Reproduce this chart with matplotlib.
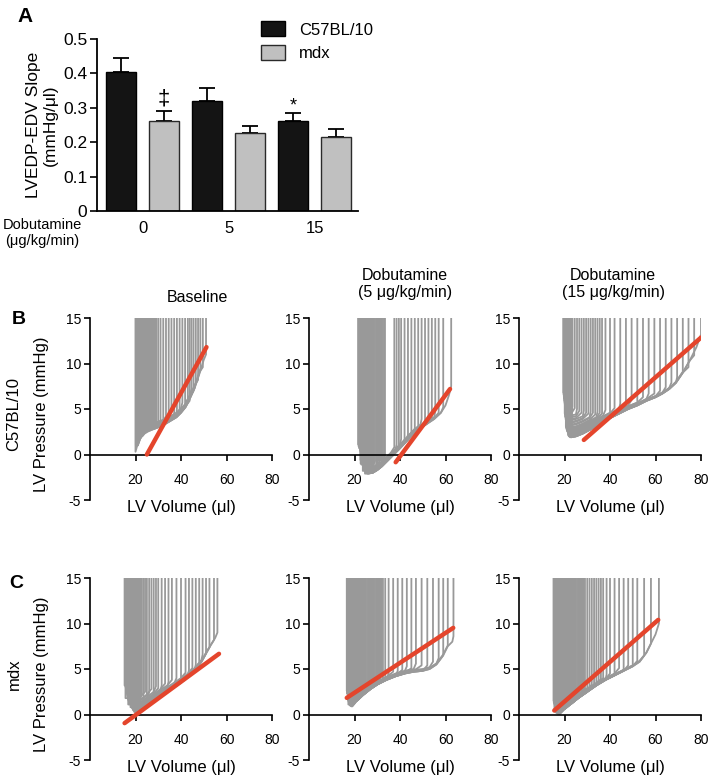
import numpy as np
import matplotlib
matplotlib.use("Agg")
import matplotlib.pyplot as plt

plt.rcParams['font.family'] = ['Liberation Sans', 'DejaVu Sans']
plt.rcParams['axes.unicode_minus'] = False

# ---------------- Panel A data ----------------
dose_labels = ['0', '5', '15']
c57_mean = [0.405, 0.321, 0.262]
c57_sem = [0.039, 0.037, 0.022]
mdx_mean = [0.261, 0.228, 0.214]
mdx_sem = [0.031, 0.018, 0.025]

# ---------------- PV loop data ----------------
env_v_B1 = [20, 21, 22, 23, 24, 26, 28, 30, 32, 34, 36, 38, 40, 42, 44, 46, 48, 50, 51.5]
env_p_B1 = [0.0, 0.9, 1.6, 2.0, 2.3, 2.6, 2.8, 3.0, 3.2, 3.5, 3.8, 4.1, 4.6, 5.2, 6.2, 7.3, 8.8, 10.4, 12.0]
esv_B1 = [20.0, 20.15, 20.3, 20.45, 20.6, 20.8, 21.0, 21.2, 21.4, 21.6, 21.8, 22.0, 22.3, 22.6, 22.9, 23.2,
          23.5, 23.8, 24.1, 24.4, 24.8, 25.2, 25.6, 26.0, 26.4, 26.8, 27.2, 27.6, 28.0, 28.4, 28.8, 29.2]
edv_B1 = [22.0, 22.5, 23.0, 23.5, 24.0, 24.6, 25.2, 25.8, 26.5, 27.2, 28.0, 29.0, 30.0, 31.0, 32.2, 33.4,
          34.6, 35.8, 37.0, 38.2, 39.4, 40.6, 41.8, 43.0, 43.8, 44.6, 45.5, 46.5, 47.5, 48.5, 49.6, 51.0]
lift_B1 = [0.3, 0.1, 0.4, 0.2, 0.5, 0.1, 0.3, 0.6, 0.2, 0.4, 0.1, 0.3, 0.5, 0.2, 0.0, 0.4,
           0.2, 0.6, 0.1, 0.3, 0.2, 0.5, 0.0, 0.3, 0.1, 0.4, 0.2, 0.0, 0.3, 0.1, 0.2, 0.0]
fit_v_B1 = [25.0, 51.2]
fit_p_B1 = [0.0, 11.8]

env_v_B2 = [22.5, 23.5, 24.5, 26, 28, 30, 32, 34, 36, 38, 40, 43, 46, 49, 52, 55, 58, 60, 61.5, 62.5]
env_p_B2 = [0.5, -1.2, -1.8, -2.1, -2.0, -1.7, -1.3, -0.8, -0.3, 0.2, 0.7, 1.5, 2.3, 2.9, 3.4, 3.9, 4.6, 5.4, 6.5, 7.5]
esv_B2 = [21.6, 21.8, 22.0, 22.1, 22.2, 22.3, 22.4, 22.5, 22.6, 22.7, 22.8, 22.9, 23.0, 23.1, 23.2, 23.35,
          23.5, 23.65, 23.8, 24.0, 24.2, 24.4, 24.6, 24.8, 25.0, 25.2, 25.4, 25.6, 25.8, 26.0, 26.3, 26.6]
edv_B2 = [26.5, 27.0, 27.5, 28.0, 28.5, 29.0, 29.5, 30.0, 30.5, 31.0, 31.5, 32.0, 32.5, 33.0, 33.4, 37.5,
          38.5, 39.5, 40.5, 42.0, 43.5, 45.0, 46.5, 48.0, 49.5, 51.0, 52.5, 54.0, 55.5, 57.0, 59.0, 62.5]
lift_B2 = [0.6, 0.4, 0.2, 0.5, 0.3, 0.7, 0.1, 0.4, 0.6, 0.2, 0.5, 0.3, 0.1, 0.4, 0.2, 0.5,
           0.3, 0.0, 0.4, 0.2, 0.1, 0.3, 0.0, 0.2, 0.4, 0.1, 0.3, 0.0, 0.2, 0.1, 0.0, 0.0]
fit_v_B2 = [38.1, 62.0]
fit_p_B2 = [-0.85, 7.2]

env_v_B3 = [20.0, 20.5, 21.5, 23, 25, 28, 31, 34, 37, 40, 44, 48, 52, 56, 60, 63, 66, 69, 72, 75, 78, 80]
env_p_B3 = [4.0, 2.8, 2.1, 1.9, 2.0, 2.3, 2.7, 3.1, 3.6, 4.0, 4.5, 5.0, 5.4, 5.9, 6.3, 6.7, 7.2, 7.9, 9.0, 10.3, 11.8, 13.2]
esv_B3 = [19.5, 19.6, 19.7, 19.8, 19.9, 20.0, 20.1, 20.2, 20.3, 20.4, 20.5, 20.6, 20.7, 20.8, 20.9, 21.0,
          21.1, 21.2, 21.3, 21.4, 21.5, 21.6, 21.7, 21.8, 21.9, 22.0, 22.2, 22.4, 22.6, 22.8, 23.0, 23.3]
edv_B3 = [23.5, 24.5, 25.5, 26.5, 27.5, 28.5, 29.5, 30.5, 31.5, 32.5, 33.5, 34.5, 35.5, 36.5, 38.0, 40.0,
          42.0, 44.5, 47.0, 49.5, 52.0, 54.5, 57.0, 59.5, 62.0, 64.5, 67.0, 69.5, 72.0, 74.5, 77.0, 80.0]
lift_B3 = [2.8, 2.6, 2.4, 2.2, 2.0, 1.9, 1.7, 1.6, 1.4, 1.3, 1.1, 1.0, 0.9, 0.8, 0.7, 0.6,
           0.5, 0.5, 0.4, 0.4, 0.3, 0.3, 0.2, 0.2, 0.1, 0.1, 0.1, 0.0, 0.1, 0.0, 0.0, 0.0]
fit_v_B3 = [28.5, 80.0]
fit_p_B3 = [1.6, 12.85]

env_v_C1 = [15.5, 16.5, 17.5, 18.5, 20, 22, 25, 28, 31, 34, 37, 40, 43, 46, 49, 51, 53, 55, 56.5]
env_p_C1 = [2.0, 0.9, 0.3, 0.1, 0.0, 0.2, 0.8, 1.4, 2.0, 2.5, 3.0, 3.5, 4.1, 4.8, 5.8, 6.7, 7.6, 8.4, 9.0]
esv_C1 = [15.2, 15.4, 15.6, 15.8, 16.0, 16.2, 16.4, 16.6, 16.8, 17.0, 17.2, 17.4, 17.6, 17.8, 18.0, 18.2,
          18.4, 18.6, 18.8, 19.0, 19.2, 19.4, 19.6, 19.8, 20.0, 20.3, 20.6, 20.9, 21.2, 21.5, 21.8, 22.1]
edv_C1 = [18.6, 19.2, 19.8, 20.4, 21.0, 21.6, 22.2, 22.8, 23.5, 24.2, 25.0, 26.0, 27.0, 28.0, 29.0, 30.0,
          31.5, 33.0, 34.5, 36.0, 38.0, 40.0, 42.0, 43.5, 45.0, 46.5, 48.0, 49.5, 51.0, 52.5, 54.5, 56.0]
lift_C1 = [1.2, 1.6, 0.9, 1.8, 1.4, 2.0, 1.1, 1.5, 0.8, 1.7, 1.3, 1.0, 1.4, 0.7, 1.1, 0.9,
           0.6, 0.8, 0.5, 0.7, 0.4, 0.3, 0.5, 0.2, 0.4, 0.1, 0.3, 0.2, 0.0, 0.1, 0.0, 0.0]
fit_v_C1 = [15.2, 56.7]
fit_p_C1 = [-0.95, 6.67]

env_v_C2 = [17.0, 18.0, 19.0, 21, 24, 27, 30, 34, 38, 42, 46, 50, 53, 56, 59, 61, 63, 64]
env_p_C2 = [2.0, 1.0, 0.9, 1.5, 2.2, 2.8, 3.3, 3.8, 4.2, 4.5, 4.7, 4.8, 5.0, 5.5, 6.5, 7.5, 8.0, 8.3]
esv_C2 = [16.6, 16.7, 16.8, 16.9, 17.0, 17.1, 17.2, 17.3, 17.4, 17.5, 17.6, 17.7, 17.8, 17.9, 18.0, 18.1,
          18.2, 18.3, 18.4, 18.5, 18.6, 18.7, 18.85, 19.0, 19.2, 19.4, 19.6, 19.8, 20.0, 20.2, 20.4, 20.6,
          20.8, 21.0, 21.2, 21.4, 21.6, 21.8, 22.0, 22.2]
edv_C2 = [20.5, 21.0, 21.5, 22.0, 22.5, 23.0, 23.5, 24.0, 24.5, 25.0, 25.5, 26.0, 26.5, 27.0, 27.5, 28.0,
          28.5, 29.0, 29.5, 30.0, 30.5, 31.0, 31.5, 32.0, 32.5, 33.5, 35.0, 37.0, 39.0, 41.0, 43.0, 45.0,
          47.0, 49.5, 52.0, 54.5, 57.0, 59.0, 61.0, 63.5]
lift_C2 = [0.6, 0.3, 0.8, 0.4, 0.2, 0.7, 0.5, 0.1, 0.6, 0.3, 0.4, 0.2, 0.5, 0.0, 0.3, 0.4,
           0.1, 0.2, 0.5, 0.0, 0.3, 0.1, 0.2, 0.4, 0.0, 0.2, 0.1, 0.3, 0.0, 0.1, 0.2, 0.0,
           0.3, 0.1, 0.0, 0.2, 0.1, 0.0, 0.1, 0.0]
fit_v_C2 = [16.6, 63.4]
fit_p_C2 = [1.83, 9.52]

env_v_C3 = [15.5, 16.5, 18, 20, 23, 26, 30, 34, 38, 42, 46, 50, 53, 56, 58, 60, 61.5]
env_p_C3 = [1.0, 0.2, 0.1, 0.6, 1.2, 1.8, 2.5, 3.2, 3.8, 4.3, 4.8, 5.3, 5.8, 6.8, 7.8, 8.8, 10.0]
esv_C3 = [15.2, 15.3, 15.4, 15.5, 15.6, 15.7, 15.8, 15.9, 16.0, 16.1, 16.2, 16.3, 16.4, 16.5, 16.6, 16.7,
          16.8, 16.9, 17.0, 17.1, 17.2, 17.3, 17.45, 17.6, 17.8, 18.0, 18.2, 18.4, 18.6, 18.8, 19.0, 19.3,
          19.6, 19.9, 20.2, 20.5, 20.8, 21.1, 21.4, 21.7]
edv_C3 = [19.0, 19.5, 20.0, 20.5, 21.0, 21.5, 22.0, 22.5, 23.0, 23.5, 24.0, 24.5, 25.0, 25.5, 26.0, 26.5,
          27.0, 27.5, 28.0, 28.5, 29.0, 30.0, 31.0, 32.0, 33.0, 34.0, 35.0, 36.0, 37.0, 38.5, 40.0, 42.0,
          44.0, 46.0, 48.0, 50.0, 52.0, 55.0, 58.0, 61.5]
lift_C3 = [0.5, 0.3, 0.7, 0.2, 0.4, 0.6, 0.1, 0.3, 0.5, 0.2, 0.4, 0.0, 0.3, 0.5, 0.1, 0.2,
           0.4, 0.0, 0.3, 0.1, 0.2, 0.4, 0.0, 0.2, 0.1, 0.3, 0.0, 0.1, 0.2, 0.0, 0.1, 0.0,
           0.2, 0.1, 0.0, 0.1, 0.0, 0.1, 0.0, 0.0]
fit_v_C3 = [15.5, 61.2]
fit_p_C3 = [0.44, 10.4]

col_titles = ['Baseline', 'Dobutamine\n(5 \u03bcg/kg/min)', 'Dobutamine\n(15 \u03bcg/kg/min)']
row_labels = ['C57BL/10', 'mdx']

# ---------------- figure ----------------
W, H = 711, 777
fig = plt.figure(figsize=(W / 100, H / 100), dpi=100)

def fx(px):
    return px / W

def fy(py):
    return 1 - py / H

BLACK_BAR = '#141414'
GRAY_BAR = '#c0c0c0'
LOOP_GRAY = '#999999'
RED = '#e4452c'

# ---- Panel A ----
axA = fig.add_axes([fx(97), fy(211), fx(358) - fx(97), fy(39) - fy(211)])
pos_c57 = np.array([0, 2, 4])
pos_mdx = np.array([1, 3, 5])
bw = 0.68
b1 = axA.bar(pos_c57, c57_mean, width=bw, color=BLACK_BAR, edgecolor='black', linewidth=1.0,
             label='C57BL/10', zorder=2)
axA.errorbar(pos_c57, c57_mean, yerr=[[0] * 3, c57_sem], fmt='none', ecolor='black',
             elinewidth=1.3, capsize=5.5, capthick=1.3, zorder=1)
b2 = axA.bar(pos_mdx, mdx_mean, width=bw, color=GRAY_BAR, edgecolor='#2a2a2a', linewidth=1.0,
             label='mdx', zorder=2)
axA.errorbar(pos_mdx, mdx_mean, yerr=[[0] * 3, mdx_sem], fmt='none', ecolor='black',
             elinewidth=1.3, capsize=5.5, capthick=1.3, zorder=1)
axA.set_xlim(-0.56, 5.51)
axA.set_ylim(0, 0.5)
axA.set_yticks([0, 0.1, 0.2, 0.3, 0.4, 0.5])
axA.set_yticklabels(['0', '0.1', '0.2', '0.3', '0.4', '0.5'])
axA.set_xticks([0.5, 2.5, 4.5])
axA.set_xticklabels(dose_labels)
axA.tick_params(axis='x', length=0, pad=7, labelsize=12)
axA.tick_params(axis='y', length=5, width=1.2, labelsize=12.5, pad=2)
for s in ['top', 'right']:
    axA.spines[s].set_visible(False)
for s in ['left', 'bottom']:
    axA.spines[s].set_linewidth(1.3)
axA.set_ylabel('LVEDP-EDV Slope\n(mmHg/\u03bcl)', fontsize=12.5, labelpad=4, linespacing=1.1)
axA.text(1, mdx_mean[0] + mdx_sem[0] + 0.004, '\u2021', ha='center', va='bottom', fontsize=16)
axA.text(4, c57_mean[2] + c57_sem[2] - 0.002, '*', ha='center', va='bottom', fontsize=13)
axA.legend(handles=[b1, b2], loc='upper left', bbox_to_anchor=(fx(253), fy(13)),
           bbox_transform=fig.transFigure, frameon=False, fontsize=12, borderpad=0,
           handlelength=1.4, handleheight=1.0, handletextpad=0.85, labelspacing=0.45)
fig.text(fx(42), fy(233), 'Dobutamine\n(\u03bcg/kg/min)', ha='center', va='center', fontsize=10.5,
         linespacing=1.15)
fig.text(fx(25), fy(16), 'A', ha='center', va='center', fontsize=15, fontweight='bold')

# ---- Panels B & C ----
panels = [
    [(env_v_B1, env_p_B1, esv_B1, edv_B1, lift_B1, fit_v_B1, fit_p_B1),
     (env_v_B2, env_p_B2, esv_B2, edv_B2, lift_B2, fit_v_B2, fit_p_B2),
     (env_v_B3, env_p_B3, esv_B3, edv_B3, lift_B3, fit_v_B3, fit_p_B3)],
    [(env_v_C1, env_p_C1, esv_C1, edv_C1, lift_C1, fit_v_C1, fit_p_C1),
     (env_v_C2, env_p_C2, esv_C2, edv_C2, lift_C2, fit_v_C2, fit_p_C2),
     (env_v_C3, env_p_C3, esv_C3, edv_C3, lift_C3, fit_v_C3, fit_p_C3)],
]
col_left = [90, 309, 519]
row_top = [318, 578]
ax_w, ax_h = 182, 182


def loop_xy(esv, edv, lift, env_v, env_p):
    ev = np.asarray(env_v, float)
    ep = np.asarray(env_p, float)
    sel = (ev >= esv) & (ev <= edv)
    sv = ev[sel]
    sp = ep[sel] + lift
    xs = [esv, esv] + list(sv) + [edv, edv]
    ys = [15, sp[0]] + list(sp) + [sp[-1] + 0.6, 15]
    return xs, ys


for r in range(2):
    for c in range(3):
        env_v, env_p, esv, edv, lift, fv, fp = panels[r][c]
        L = col_left[c]
        T = row_top[r]
        ax = fig.add_axes([fx(L), fy(T + ax_h), fx(ax_w), ax_h / H])
        for e1, e2, lf in zip(esv, edv, lift):
            xs, ys = loop_xy(e1, e2, lf, env_v, env_p)
            ax.plot(xs, ys, color=LOOP_GRAY, lw=1.3, zorder=2)
        ax.plot(fv, fp, color=RED, lw=3.2, solid_capstyle='round', zorder=4)
        ax.set_xlim(0, 80)
        ax.set_ylim(-5, 15)
        ax.spines['top'].set_visible(False)
        ax.spines['right'].set_visible(False)
        ax.spines['bottom'].set_position(('data', 0))
        ax.spines['left'].set_linewidth(1.2)
        ax.spines['bottom'].set_linewidth(1.2)
        ax.spines['bottom'].set_zorder(3)
        ax.set_xticks([20, 40, 60, 80])
        ax.set_yticks([-5, 0, 5, 10, 15])
        ax.tick_params(axis='both', direction='out', length=4.5, width=1.2, labelsize=10)
        ax.tick_params(axis='x', pad=9)
        ax.tick_params(axis='y', pad=2)
        ax.text(0.5, -0.04, 'LV Volume (\u03bcl)', transform=ax.transAxes, ha='center',
                va='center', fontsize=12)
        if c == 0:
            fig.text(fx(42), fy(T + 96), 'LV Pressure (mmHg)', rotation=90, ha='center',
                     va='center', fontsize=12)
            fig.text(fx(14), fy(T + 96), row_labels[r], rotation=90, ha='center', va='center',
                     fontsize=12)

fig.text(fx(19), fy(320), 'B', ha='center', va='center', fontsize=14, fontweight='bold')
fig.text(fx(16), fy(583), 'C', ha='center', va='center', fontsize=14, fontweight='bold')

fig.text(fx(197), fy(297), col_titles[0], ha='center', va='center', fontsize=11.5)
fig.text(fx(405), fy(284), col_titles[1], ha='center', va='center', fontsize=11.5,
         linespacing=1.2)
fig.text(fx(613), fy(284), col_titles[2], ha='center', va='center', fontsize=11.5,
         linespacing=1.2)

fig.savefig('out.png', dpi=100)
